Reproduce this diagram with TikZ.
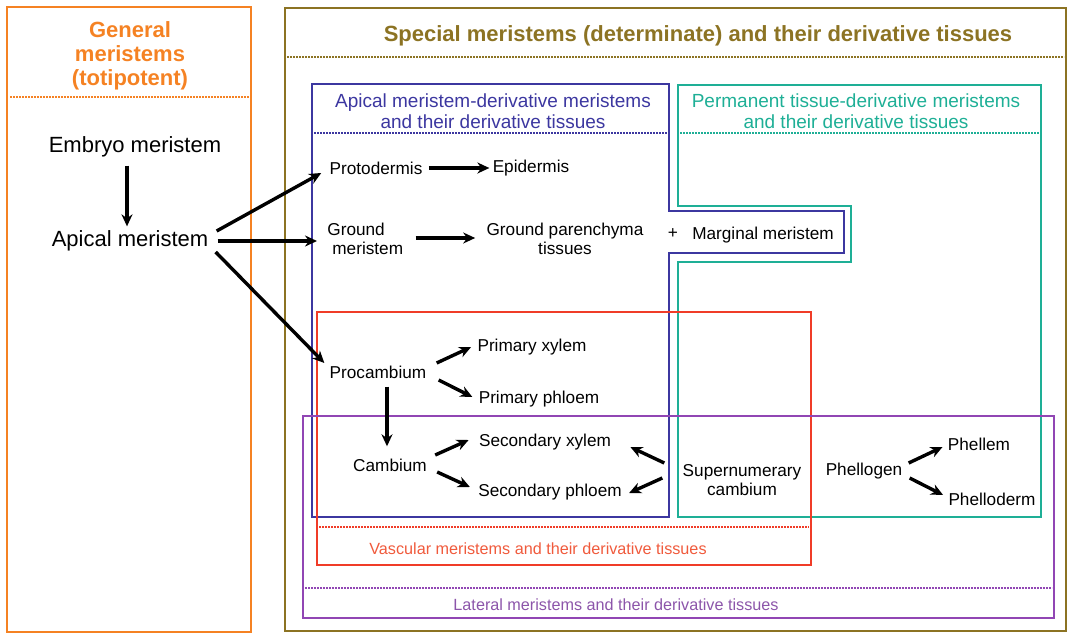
\documentclass[tikz,border=0pt]{standalone}
\usepackage{fontspec}
\setmainfont{Liberation Sans}
\usetikzlibrary{arrows.meta,calc}
\definecolor{genorange}{RGB}{245,130,35}
\definecolor{specolive}{RGB}{140,115,35}
\definecolor{apblue}{RGB}{60,55,160}
\definecolor{permteal}{RGB}{30,175,150}
\definecolor{vascred}{RGB}{240,60,40}
\definecolor{vasctext}{RGB}{240,90,60}
\definecolor{latpurple}{RGB}{145,70,180}
\definecolor{lattext}{RGB}{140,85,170}
\tikzset{
  box/.style={line width=1.2pt},
  dots/.style={line width=1.3pt, dash pattern=on 0.8pt off 0.7pt},
  bigtext/.style={font=\fontsize{11}{12}\selectfont, inner sep=0pt},
  boldtitle/.style={font=\fontsize{11}{12}\selectfont\bfseries, align=center, inner sep=0pt},
  hdr/.style={font=\fontsize{9.5}{10.5}\selectfont, align=center, inner sep=0pt},
  foot/.style={font=\fontsize{8.1}{9}\selectfont, inner sep=0pt},
  lbl/.style={font=\fontsize{8.6}{9.2}\selectfont, align=center, inner sep=0pt},
  arr/.style={-{Stealth[length=6pt,width=5.5pt]}, line width=1.7pt}
}
\begin{document}
\begin{tikzpicture}[x=0.5pt,y=-0.5pt]
  \useasboundingbox (0,0) rectangle (1067,633);
  \draw[genorange,box] (7,7) rectangle (251,632);
  \draw[genorange,dots] (10,97) -- (249,97);
  \draw[specolive,box] (285,8) rectangle (1066,631);
  \draw[specolive,dots] (287,57) -- (1064,57);
  \draw[apblue,box] (312,84) -- (669,84) -- (669,211) -- (844,211) -- (844,253)
    -- (669,253) -- (669,517) -- (312,517) -- cycle;
  \draw[apblue,dots] (314,133) -- (667,133);
  \draw[permteal,box] (678,85) -- (1041,85) -- (1041,517) -- (678,517) -- (678,262)
    -- (851,262) -- (851,206) -- (678,206) -- cycle;
  \draw[permteal,dots] (680,133) -- (1039,133);
  \draw[vascred,box] (317,312) rectangle (811,565);
  \draw[vascred,dots] (319,527) -- (809,527);
  \draw[latpurple,box] (303,416) rectangle (1054,618);
  \draw[latpurple,dots] (305,588) -- (1052,588);

  \node[boldtitle,genorange] (gen) at (130,56) {General\\meristems\\(totipotent)};
  \node[boldtitle,specolive] (spec) at (698,36) {Special meristems (determinate) and their derivative tissues};
  \node[hdr,apblue] (aphdr) at (493,111) {Apical meristem-derivative meristems\\and their derivative tissues};
  \node[hdr,permteal] (permhdr) at (856,111) {Permanent tissue-derivative meristems\\and their derivative tissues};
  \node[foot,vasctext] (vaschdr) at (538,549) {Vascular meristems and their derivative tissues};
  \node[foot,lattext] (lathdr) at (616,605) {Lateral meristems and their derivative tissues};

  \node[bigtext] (embryo) at (135,147) {Embryo meristem};
  \node[bigtext] (apical) at (130,241) {Apical meristem};
  \node[lbl] (proto) at (376,168) {Protodermis};
  \node[lbl] (epi) at (531,168) {Epidermis};
  \node[lbl,align=left,anchor=west] (ground) at (327,239) {Ground\\\hspace{2.5pt}meristem};
  \node[lbl] (gpar) at (565,239) {Ground parenchyma\\tissues};
  \node[lbl] (plus) at (673,234) {+};
  \node[lbl] (marg) at (763,235) {Marginal meristem};
  \node[lbl] (proc) at (378,372) {Procambium};
  \node[lbl] (pxyl) at (532,347) {Primary xylem};
  \node[lbl] (pphl) at (539,399) {Primary phloem};
  \node[lbl] (camb) at (390,465) {Cambium};
  \node[lbl] (sxyl) at (545,442) {Secondary xylem};
  \node[lbl] (sphl) at (550,492) {Secondary phloem};
  \node[lbl] (super) at (742,480) {Supernumerary\\cambium};
  \node[lbl] (pgen) at (864,471) {Phellogen};
  \node[lbl] (pllm) at (979,444) {Phellem};
  \node[lbl] (pldm) at (992,499) {Phelloderm};

  \draw[arr] ([xshift=-4pt,yshift=-4pt]embryo.south) -- ([xshift=-1.5pt,yshift=2pt]apical.north);
  \draw[arr] ([xshift=4pt,yshift=5pt]apical.east) -- ([xshift=-4pt,yshift=-2.5pt]proto.west);
  \draw[arr] ([xshift=4.5pt]apical.east) -- ([xshift=-5pt,yshift=-1pt]ground.west);
  \draw[arr] ([xshift=3.5pt,yshift=-5.5pt]apical.east) -- ([xshift=-2.5pt,yshift=4.5pt]proc.west);
  \draw[arr] ([xshift=3pt]proto.east) -- ([xshift=-1.5pt]epi.west);
  \draw[arr] ([xshift=6pt,yshift=0.5pt]ground.east) -- ([xshift=-5.5pt,yshift=0.5pt]gpar.west);
  \draw[arr] ([xshift=5pt,yshift=4.5pt]proc.east) -- ([xshift=-3pt]pxyl.west);
  \draw[arr] ([xshift=6pt,yshift=-4pt]proc.east) -- ([xshift=-3pt,yshift=1pt]pphl.west);
  \draw[arr] ([xshift=4.5pt,yshift=-4pt]proc.south) -- ([xshift=-1.5pt,yshift=6pt]camb.north);
  \draw[arr] ([xshift=4pt,yshift=5pt]camb.east) -- ([xshift=-5pt,yshift=1pt]sxyl.west);
  \draw[arr] ([xshift=5pt,yshift=-3.5pt]camb.east) -- ([xshift=-4pt,yshift=2.5pt]sphl.west);
  \draw[arr] ([xshift=-9pt,yshift=8.5pt]super.west) -- ([xshift=9.5pt,yshift=-2.5pt]sxyl.east);
  \draw[arr] ([xshift=-10pt,yshift=1pt]super.west) -- ([xshift=3.5pt,yshift=-0.5pt]sphl.east);
  \draw[arr] ([xshift=3pt,yshift=4pt]pgen.east) -- ([xshift=-2.5pt,yshift=-1.5pt]pllm.west);
  \draw[arr] ([xshift=3.5pt,yshift=-3.5pt]pgen.east) -- ([xshift=-2.5pt,yshift=2pt]pldm.west);
\end{tikzpicture}
\end{document}
